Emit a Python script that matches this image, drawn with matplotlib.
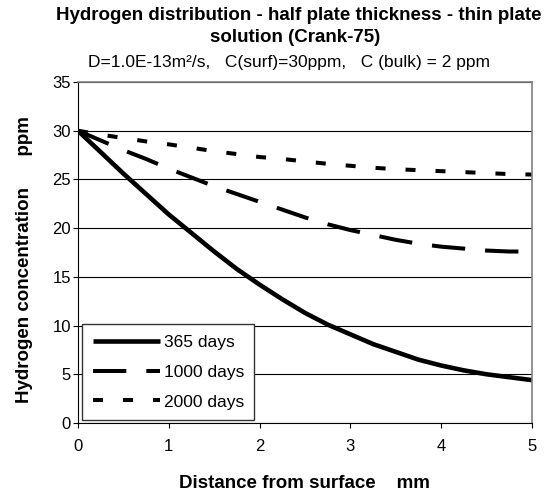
import numpy as np
import matplotlib
matplotlib.use('Agg')
import matplotlib.pyplot as plt

# distance from surface, mm
distance = [0, 0.25, 0.5, 0.75, 1.0, 1.25, 1.5, 1.75, 2.0, 2.25, 2.5,
            2.75, 3.0, 3.25, 3.5, 3.75, 4.0, 4.25, 4.5, 4.75, 5.0]

# hydrogen concentration, ppm
days_365 = [30, 27.8, 25.6, 23.5, 21.4, 19.5, 17.6, 15.8, 14.2, 12.7, 11.3,
            10.1, 9.1, 8.1, 7.3, 6.5, 5.9, 5.4, 5.0, 4.7, 4.4]
days_1000 = [30, 29.0, 28.0, 27.1, 26.1, 25.2, 24.3, 23.5, 22.7, 21.9, 21.1,
             20.4, 19.8, 19.3, 18.8, 18.4, 18.1, 17.9, 17.7, 17.6, 17.6]
days_2000 = [30, 29.6, 29.25, 28.9, 28.6, 28.25, 27.9, 27.6, 27.3, 27.1, 26.85,
             26.6, 26.4, 26.2, 26.05, 25.95, 25.85, 25.75, 25.65, 25.55, 25.5]

labels = ['365 days', '1000 days', '2000 days']
yticks = [0, 5, 10, 15, 20, 25, 30, 35]
xticks = [0, 1, 2, 3, 4, 5]

plt.rcParams['font.family'] = ['Liberation Sans', 'DejaVu Sans']
plt.rcParams['lines.scale_dashes'] = False

W, H = 552, 495
fig = plt.figure(figsize=(W / 100, H / 100), dpi=100)
ax = fig.add_axes([78 / W, (H - 423) / H, 454 / W, 341 / H])

ax.plot(distance, days_365, color='black', lw=3.3, solid_capstyle='butt', label=labels[0])
ax.plot(distance, days_1000, color='black', lw=2.9, dash_capstyle='butt',
        linestyle=(0, (24, 14.4)), label=labels[1])
ax.plot(distance, days_2000, color='black', lw=2.9, dash_capstyle='butt',
        linestyle=(0, (7.2, 14.4)), label=labels[2])

ax.set_xlim(0, 5)
ax.set_ylim(0, 35)
ax.set_xticks(xticks)
ax.set_yticks(yticks)
ax.tick_params(direction='out', length=3.6, width=0.8, labelsize=12, colors='black')
ax.tick_params(axis='y', pad=1.5)
ax.tick_params(axis='x', pad=8)
ax.yaxis.grid(True, color='black', lw=0.8)
ax.set_axisbelow(True)
for s in ['top', 'right']:
    ax.spines[s].set_color('#808080')
    ax.spines[s].set_linewidth(1.2)
for s in ['left', 'bottom']:
    ax.spines[s].set_color('black')
    ax.spines[s].set_linewidth(0.8)

leg = ax.legend(loc='lower left', bbox_to_anchor=(0.009, 0.009), fontsize=12.5,
                handlelength=3.9, handletextpad=0.2, labelspacing=0.85,
                borderpad=0.6, borderaxespad=0, fancybox=False, framealpha=1,
                edgecolor='#333333')
leg.get_frame().set_linewidth(1.0)

fig.text(299 / W, 1 - 15 / H, 'Hydrogen distribution - half plate thickness - thin plate',
         ha='center', va='center', fontsize=13.5, fontweight='bold')
fig.text(295 / W, 1 - 38 / H, 'solution (Crank-75)',
         ha='center', va='center', fontsize=13.5, fontweight='bold')
fig.text(289 / W, 1 - 62 / H, 'D=1.0E-13m²/s,   C(surf)=30ppm,   C (bulk) = 2 ppm',
         ha='center', va='center', fontsize=12.5)
fig.text(25 / W, 1 - 260 / H, 'Hydrogen concentration      ppm', rotation=90,
         ha='center', va='center', fontsize=13.5, fontweight='bold')
fig.text(304 / W, 1 - 483 / H, 'Distance from surface    mm',
         ha='center', va='center', fontsize=13.5, fontweight='bold')

fig.savefig('out.png', dpi=100)
